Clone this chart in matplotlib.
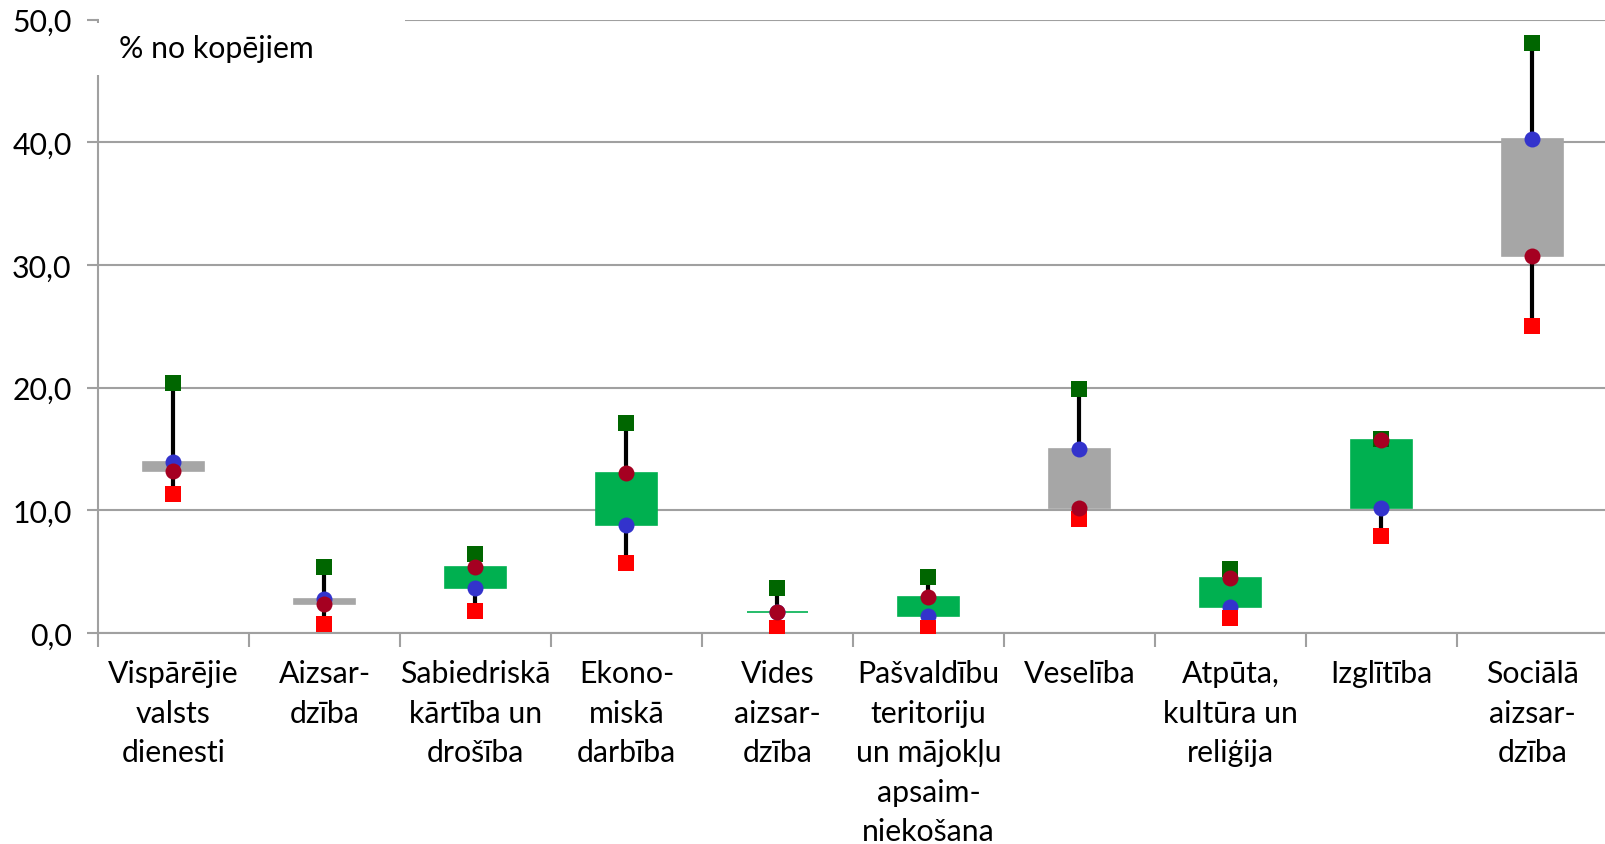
import matplotlib
matplotlib.use("Agg")
import matplotlib.pyplot as plt
from matplotlib.patches import Rectangle
from matplotlib.ticker import FixedLocator

categories = ["Vispārējie\nvalsts\ndienesti", "Aizsar-\ndzība", "Sabiedriskā\nkārtība un\ndrošība",
              "Ekono-\nmiskā\ndarbība", "Vides\naizsar-\ndzība",
              "Pašvaldību\nteritoriju\nun mājokļu\napsaim-\nniekošana",
              "Veselība", "Atpūta,\nkultūra un\nreliģija", "Izglītība", "Sociālā\naizsar-\ndzība"]
max_vals = [20.4, 5.4, 6.4, 17.1, 3.7, 4.6, 19.9, 5.2, 15.8, 48.1]
min_vals = [11.3, 0.7, 1.8, 5.7, 0.4, 0.4, 9.3, 1.2, 7.9, 25.0]
blue_vals = [13.9, 2.8, 3.7, 8.8, 1.7, 1.4, 15.0, 2.1, 10.2, 40.3]
darkred_vals = [13.2, 2.4, 5.4, 13.0, 1.75, 2.9, 10.2, 4.5, 15.7, 30.7]
yticks = [0, 10, 20, 30, 40, 50]
ytick_labels = ["0,0", "10,0", "20,0", "30,0", "40,0", "50,0"]
note = "% no kopējiem"

FONT = "Lato"
FS = 21.8
W, H = 1606, 845
fig = plt.figure(figsize=(W / 100, H / 100), dpi=100)
ax = fig.add_axes([98 / W, (H - 634) / H, (1608 - 98) / W, (634 - 20.5) / H])

xs = list(range(len(categories)))
ax.set_xlim(-0.5, len(categories) - 0.5)
ax.set_ylim(0, 50)

# high-low lines
ax.vlines(xs, min_vals, max_vals, color="black", lw=3, zorder=3)
# up-down bars
bw = 0.4
for x, o, c in zip(xs, blue_vals, darkred_vals):
    col = "#00B050" if c >= o else "#A6A6A6"
    ax.add_patch(Rectangle((x - bw / 2, min(o, c)), bw, abs(c - o), facecolor=col,
                           edgecolor=col, lw=1.2, zorder=4))
ms = 11.5
ax.plot(xs, blue_vals, "o", color="#3333CC", ms=ms, mew=0, zorder=5)
ax.plot(xs, max_vals, "s", color="#006600", ms=ms, mew=0, zorder=6)
ax.plot(xs, min_vals, "s", color="#FF0000", ms=ms, mew=0, zorder=6)
ax.plot(xs, darkred_vals, "o", color="#A50021", ms=ms, mew=0, zorder=7)

grid_col = "#A0A0A0"
ax.set_yticks(yticks)
ax.set_yticklabels(ytick_labels, fontfamily=FONT, fontsize=FS)
ax.yaxis.grid(True, color=grid_col, lw=1.5)
ax.set_axisbelow(True)
ax.tick_params(axis="y", length=8, width=1.5, color=grid_col, pad=11)

ax.set_xticks(xs)
ax.set_xticklabels(categories, fontfamily=FONT, fontsize=FS, linespacing=1.5, va="top")
ax.tick_params(axis="x", which="major", length=0, pad=19)
ax.xaxis.set_minor_locator(FixedLocator([i - 0.5 for i in range(len(categories) + 1)]))
ax.tick_params(axis="x", which="minor", length=10, width=1.5, color=grid_col)

for s in ["top", "right"]:
    ax.spines[s].set_visible(False)
for s in ["left", "bottom"]:
    ax.spines[s].set_color(grid_col)
    ax.spines[s].set_linewidth(1.5)

# white note box covering gridline and spine
fig.patches.append(Rectangle((99 / W, (H - 25) / H), (405 - 99) / W, 9 / H,
                             transform=fig.transFigure, facecolor="white", edgecolor="none", zorder=1))
fig.patches.append(Rectangle((95 / W, (H - 76) / H), (405 - 95) / W, 52 / H,
                             transform=fig.transFigure, facecolor="white", edgecolor="none", zorder=1))
fig.text(119 / W, (H - 49) / H, note, fontfamily=FONT, fontsize=FS, va="center", ha="left", zorder=2)

fig.savefig("out.png", dpi=100)
